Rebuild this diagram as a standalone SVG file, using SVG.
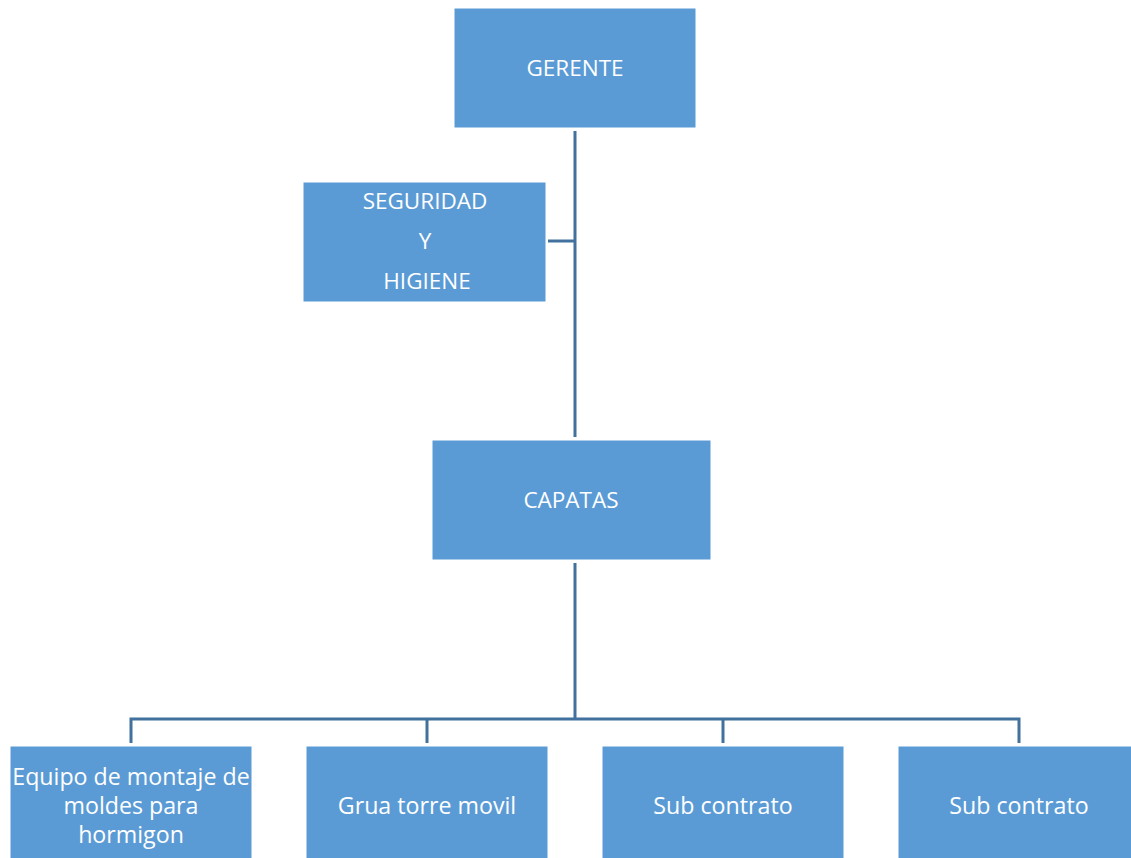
<svg xmlns="http://www.w3.org/2000/svg" width="1131" height="858" viewBox="0 0 1131 858">
<style>
.box{fill:#5B9BD5;stroke:#ffffff;stroke-width:1}
.t{fill:#ffffff;font-family:"Open Sans","Liberation Sans",sans-serif;font-size:22.5px;text-anchor:middle;dominant-baseline:central}
.tb{font-size:23.2px}
.c{stroke:#41719C;stroke-width:3;fill:none}
</style>
<rect width="1131" height="858" fill="#ffffff"/>
<g id="connectors">
<path class="c" d="M575 131 V437"/>
<path class="c" d="M548 241 H575"/>
<path class="c" d="M575 563 V719"/>
<path class="c" d="M131 743 V719 H1019 V743"/>
<path class="c" d="M427 719 V743"/>
<path class="c" d="M723 719 V743"/>
</g>
<g id="gerente">
<rect class="box" x="454" y="8" width="242" height="120"/>
<text class="t" x="575" y="67">GERENTE</text>
</g>
<g id="seguridad">
<rect class="box" x="303" y="182" width="243" height="120"/>
<text class="t" x="425" y="200">SEGURIDAD</text>
<text class="t" x="425" y="240">Y</text>
<text class="t" x="427" y="280">HIGIENE</text>
</g>
<g id="capatas">
<rect class="box" x="432" y="440" width="279" height="120"/>
<text class="t" x="571" y="499">CAPATAS</text>
</g>
<g id="equipo">
<rect class="box" x="10" y="746" width="242" height="113"/>
<text class="t tb" x="131" y="776">Equipo de montaje de</text>
<text class="t tb" x="131" y="805">moldes para</text>
<text class="t tb" x="131" y="834">hormigon</text>
</g>
<g id="grua">
<rect class="box" x="306" y="746" width="242" height="113"/>
<text class="t tb" x="427" y="805">Grua torre movil</text>
</g>
<g id="sub1">
<rect class="box" x="602" y="746" width="242" height="113"/>
<text class="t tb" x="723" y="805">Sub contrato</text>
</g>
<g id="sub2">
<rect class="box" x="898" y="746" width="242" height="113"/>
<text class="t tb" x="1019" y="805">Sub contrato</text>
</g>
</svg>
